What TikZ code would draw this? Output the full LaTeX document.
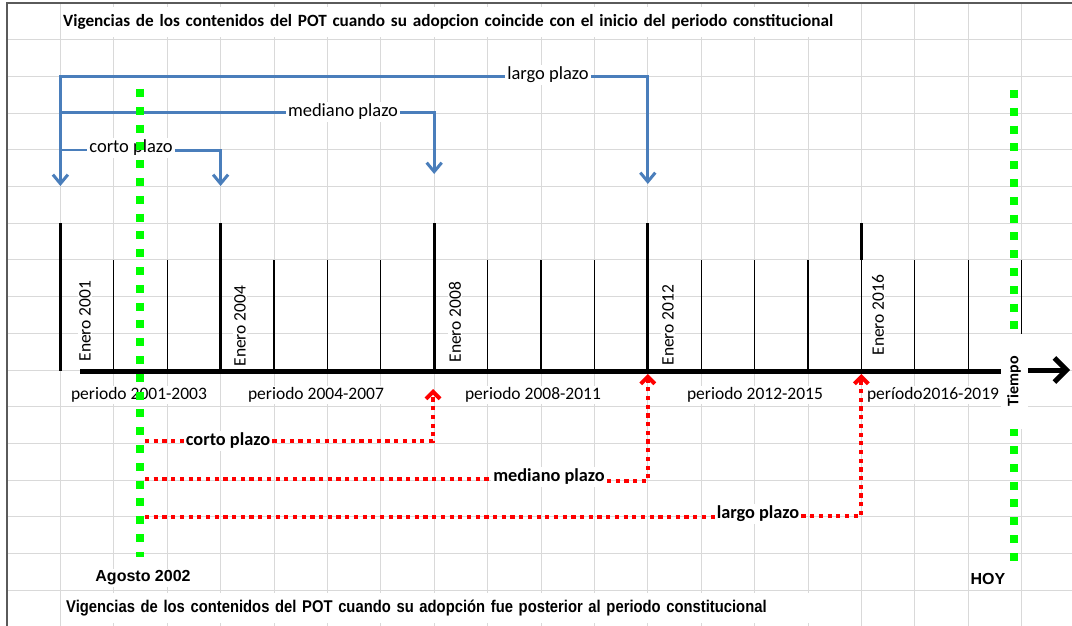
\documentclass[tikz,border=0pt]{standalone}
\usepackage{fontspec}
\setmainfont{Carlito}
\newfontfamily\arialf{Liberation Sans}
\newfontfamily\arialc[FakeStretch=0.87]{Liberation Sans}
\usetikzlibrary{arrows.meta}
\definecolor{gridc}{HTML}{D9D9D9}
\definecolor{bordc}{HTML}{5A5A5A}
\definecolor{bluec}{HTML}{4A7EBB}
\definecolor{redc}{HTML}{FF0000}
\definecolor{greenc}{HTML}{00FF00}
\begin{document}
\begin{tikzpicture}[x=1pt,y=-1pt,
  gridline/.style={draw=gridc,line width=1pt},
  majortick/.style={draw=black,line width=3pt},
  minortick/.style={draw=black,line width=1.3pt},
  blueline/.style={draw=bluec,line width=3pt},
  bluearrow/.style={blueline,-{Straight Barb[length=9pt,width=15pt]}},
  redline/.style={draw=redc,line width=4pt,dash pattern=on 4.2pt off 4.5pt},
  redarrow/.style={redline,-{Straight Barb[length=7pt,width=14pt]}},
  greenline/.style={draw=greenc,line width=8pt,dash pattern=on 8pt off 9.8pt},
  lbl/.style={fill=white,inner sep=2pt},
  bluelbl/.style={lbl,font=\fontsize{18.5}{20}\selectfont},
  redlbl/.style={lbl,font=\bfseries\fontsize{18.3}{20}\selectfont},
  enerolbl/.style={lbl,rotate=90,inner sep=1pt,font=\fontsize{17.5}{19}\selectfont},
  periodlbl/.style={lbl,inner xsep=4pt,font=\fontsize{17.5}{20}\selectfont},
  datelbl/.style={lbl,font=\arialf\bfseries\fontsize{16}{18}\selectfont},
]
\useasboundingbox (0,0) rectangle (1072,626);
% spreadsheet grid
\foreach \i in {1,...,20} \draw[gridline] ({7+53.4*\i},3) -- ({7+53.4*\i},626);
\foreach \j in {1,...,17} \draw[gridline] (7,{3+36.7*\j}) -- (1072,{3+36.7*\j});
\draw[draw=bordc,line width=1.5pt] (7,626) -- (7,3) -- (1072,3);
% time axis and ticks
\foreach \x in {60.4,220.6,434.2,647.8} \draw[majortick] (\x,223.2) -- (\x,371);
\draw[majortick] (861.4,223.2) -- (861.4,260);
\foreach \x in {113.8,167.2,274,327.4,380.8,487.6,541,594.4,701.2,754.6,808,861.4,914.8,968.2,1021.6}
  \draw[minortick] (\x,259.9) -- (\x,371);
\coordinate (ax0) at (80,371);
\coordinate (ax1) at (1014,371);
\draw[line width=5pt] (ax0) -- (ax1);
% titles
\node[lbl,anchor=west,text width=792pt,align=left,inner xsep=2pt,inner ysep=7pt,
  font=\bfseries\fontsize{17.2}{20}\selectfont] (title) at (61,22)
  {Vigencias de los contenidos del POT cuando su adopcion coincide con el inicio del periodo constitucional};
\node[lbl,anchor=west,text width=740pt,align=left,inner xsep=4pt,inner ysep=7pt,
  font=\arialc\bfseries\fontsize{17}{20}\selectfont] (subtitle) at (62,608)
  {Vigencias de los contenidos del POT cuando su adopción fue posterior al periodo constitucional};
% Enero labels
\node[enerolbl] (e2001) at (85,321) {Enero 2001};
\node[enerolbl] (e2004) at (240,326) {Enero 2004};
\node[enerolbl] (e2008) at (455,322) {Enero 2008};
\node[enerolbl] (e2012) at (668,325) {Enero 2012};
\node[enerolbl] (e2016) at (878,315) {Enero 2016};
% period labels
\node[periodlbl] (p1) at (139,395) {periodo 2001-2003};
\node[periodlbl] (p2) at (316,395) {periodo 2004-2007};
\node[periodlbl] (p3) at (533,395) {periodo 2008-2011};
\node[periodlbl] (p4) at (755,395) {periodo 2012-2015};
\node[periodlbl] (p5) at (933,395) {período2016-2019};
% blue labels and connectors
\node[bluelbl] (lgB) at (548,75) {largo plazo};
\node[bluelbl] (mdB) at (343,112) {mediano plazo};
\node[bluelbl] (ctB) at (131,148) {corto plazo};
\coordinate (b0) at (60.4,77);
\coordinate (b1) at (60.4,113);
\coordinate (b2) at (60.4,150);
\coordinate (bA0) at (60.4,186);
\coordinate (bL) at (647.8,77);
\coordinate (bLe) at (647.8,184);
\coordinate (bM) at (434.2,113);
\coordinate (bMe) at (434.2,174);
\coordinate (bC) at (220.6,150);
\coordinate (bCe) at (220.6,186);
\draw[bluearrow] (lgB.west |- b0) -- (b0) -- (bA0);
\draw[bluearrow] (lgB.east |- b0) -- (bL) -- (bLe);
\draw[blueline] (b1) -- (b1 -| mdB.west);
\draw[bluearrow] (mdB.east |- b1) -- (bM) -- (bMe);
\draw[blueline,line width=1.2pt] (b2) -- (b2 -| ctB.west);
\draw[bluearrow] (ctB.east |- b2) -- (bC) -- (bCe);
% red labels and connectors
\node[redlbl] (ctR) at (228,441) {corto plazo};
\node[redlbl] (mdR) at (549,477) {mediano plazo};
\node[redlbl] (lgR) at (758,514) {largo plazo};
\coordinate (r1) at (145,441);
\coordinate (r1c) at (433,441);
\coordinate (r1e) at (433,389);
\coordinate (r2) at (145,479);
\coordinate (r2b) at (620,481);
\coordinate (r2c) at (647.8,481);
\coordinate (r2e) at (647.8,374);
\coordinate (r3) at (145,517);
\coordinate (r3c) at (861.4,516);
\coordinate (r3e) at (861.4,374);
\draw[redline] (r1) -- (r1 -| ctR.west);
\draw[redarrow] (ctR.east |- r1) -- (r1c) -- (r1e);
\draw[redline] (r2) -- (r2 -| mdR.west);
\draw[redarrow] (mdR.east |- r2b) -- (r2c) -- (r2e);
\draw[redline] (r3) -- (r3 -| lgR.west);
\draw[redarrow] (lgR.east |- r3c) -- (r3c) -- (r3e);
% date labels
\node[datelbl] (agosto) at (143,578) {Agosto 2002};
\node[datelbl] (hoy) at (988,579) {HOY};
% green markers
\coordinate (g0) at (140,89);
\coordinate (g1) at (140,557);
\coordinate (h0) at (1014,90);
\coordinate (h1) at (1014,561);
\draw[greenline] (g0) -- (g1);
\draw[greenline] (h0) -- (h1);
% time label and arrow
\node[lbl,rotate=90,minimum width=95pt,minimum height=27pt,inner sep=0pt,
  font=\bfseries\fontsize{16}{18}\selectfont] (tiempo) at (1014,381) {Tiempo};
\coordinate (ax2) at (1028,370);
\coordinate (ax3) at (1070,370);
\draw[line width=5pt,-{Straight Barb[length=12pt,width=24pt]}] (ax2) -- (ax3);
\end{tikzpicture}
\end{document}
